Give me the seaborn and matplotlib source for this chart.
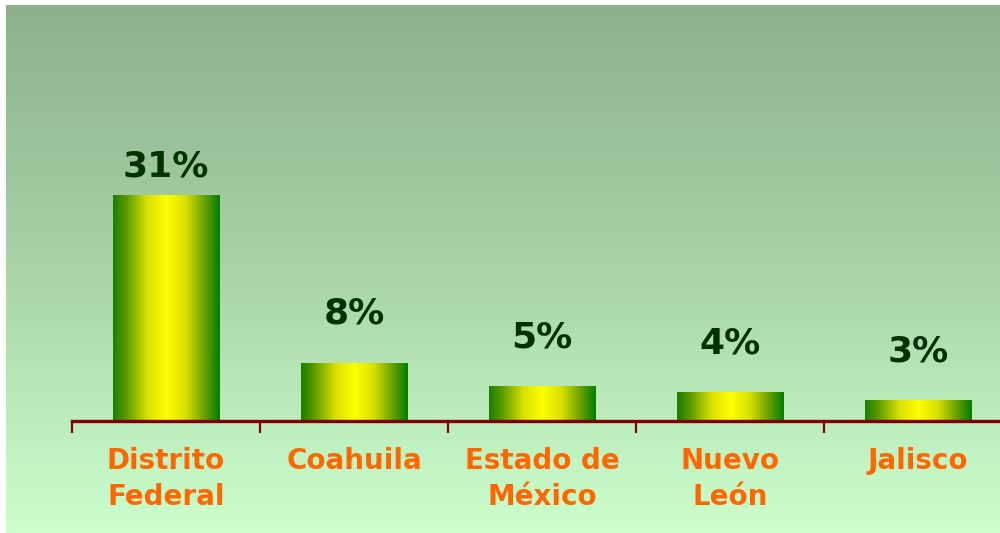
import numpy as np
import pandas as pd
import matplotlib
matplotlib.use("Agg")
import matplotlib.pyplot as plt
import seaborn as sns
from matplotlib.colors import LinearSegmentedColormap

categories = ["Distrito\nFederal", "Coahuila", "Estado de\nMéxico", "Nuevo\nLeón", "Jalisco"]
values = [31.1, 8.0, 4.8, 4.0, 2.9]
labels = ["31%", "8%", "5%", "4%", "3%"]

df = pd.DataFrame({"estado": categories, "pct": values})

sns.set_style("white")
plt.rcParams['font.family'] = ['DejaVu Sans']

W, H = 1000, 533
fig = plt.figure(figsize=(W / 100, H / 100), dpi=100)
fig.patch.set_facecolor("white")

# background gradient
bg = fig.add_axes([6 / W, 0, (W - 6) / W, (H - 5) / H])
bg_cmap = LinearSegmentedColormap.from_list("bg", ["#8DB08D", "#A8D4A8", "#CCFFCC"])
grad = np.linspace(0, 1, 256).reshape(-1, 1)
bg.imshow(grad, aspect="auto", cmap=bg_cmap, extent=[0, 1, 0, 1], origin="upper")
bg.set_axis_off()

# main axes
base_y = 421
top_y = 5
left_x = 72
cat_w = 188.0
n = len(categories)
ax = fig.add_axes([left_x / W, (H - base_y) / H, n * cat_w / W, (base_y - top_y) / H])
ax.patch.set_alpha(0)

sns.barplot(data=df, x="estado", y="pct", ax=ax, width=0.565, color="#80c000",
            saturation=1, edgecolor="none", zorder=2)

bar_cmap = LinearSegmentedColormap.from_list(
    "bar", [(0, "#1A7F00"), (0.12, "#5A9A00"), (0.32, "#D8E000"), (0.5, "#FFFF00"),
            (0.68, "#D8E000"), (0.88, "#5A9A00"), (1, "#007F00")])
hgrad = np.linspace(0, 1, 256).reshape(1, -1)
for i, (p, lab) in enumerate(zip(ax.patches, labels)):
    x0, y0 = p.get_x(), p.get_y()
    w, h = p.get_width(), p.get_height()
    im = ax.imshow(hgrad, aspect="auto", cmap=bar_cmap, extent=[x0, x0 + w, y0, y0 + h],
                   zorder=3, origin="lower")
    im.set_clip_path(p)
    p.set_facecolor("none")
    gap_pt = 13 if i == 0 else 28
    ax.annotate(lab, (x0 + w / 2, h), xytext=(0, gap_pt), textcoords="offset points",
                ha="center", va="baseline", fontsize=26, fontweight="bold", color="#003300")

for s in ["top", "right", "left"]:
    ax.spines[s].set_visible(False)
ax.spines["bottom"].set_color("#800000")
ax.spines["bottom"].set_linewidth(2.4)
ax.spines["bottom"].set_zorder(4)
ax.set_yticks([])
ax.set_xlabel("")
ax.set_ylabel("")
ax.set_xticks(range(n))
ax.set_xticklabels(categories, fontsize=20, fontweight="bold", color="#FF6600",
                   linespacing=1.35)
ax.set_xticks(np.arange(-0.5, n, 1), minor=True)
ax.tick_params(axis="x", which="both", bottom=True)
ax.tick_params(axis="x", which="major", length=0, pad=19)
ax.tick_params(axis="x", which="minor", length=8.5, width=1.6, color="#800000", direction="out")
ax.set_xlim(-0.5, n - 0.5)
ax.set_ylim(0, (base_y - top_y) / 7.27)

fig.savefig("out.png", dpi=100, facecolor="white")
